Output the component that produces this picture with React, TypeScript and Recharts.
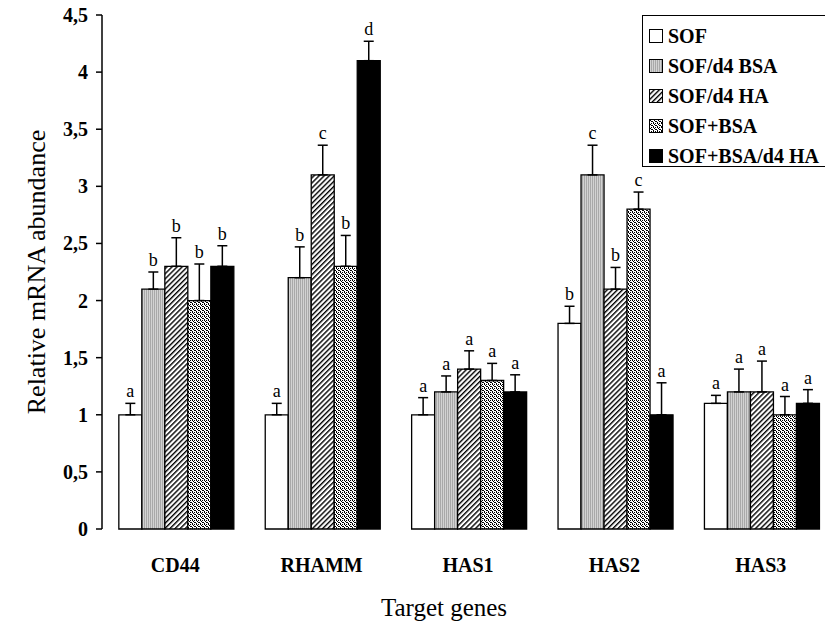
import { BarChart, Bar, XAxis, YAxis, ErrorBar, Legend, LabelList, Label } from 'recharts'

const genes = ['CD44', 'RHAMM', 'HAS1', 'HAS2', 'HAS3']
const seriesNames = ['SOF', 'SOF/d4 BSA', 'SOF/d4 HA', 'SOF+BSA', 'SOF+BSA/d4 HA']

// mean relative abundance per group
const sof = [1.0, 1.0, 1.0, 1.8, 1.1]
const sofD4Bsa = [2.1, 2.2, 1.2, 3.1, 1.2]
const sofD4Ha = [2.3, 3.1, 1.4, 2.1, 1.2]
const sofBsa = [2.0, 2.3, 1.3, 2.8, 1.0]
const sofBsaD4Ha = [2.3, 4.1, 1.2, 1.0, 1.1]

// upper error (SEM)
const sofErr = [0.1, 0.1, 0.15, 0.15, 0.07]
const sofD4BsaErr = [0.15, 0.27, 0.14, 0.26, 0.2]
const sofD4HaErr = [0.25, 0.26, 0.16, 0.19, 0.27]
const sofBsaErr = [0.32, 0.27, 0.15, 0.15, 0.16]
const sofBsaD4HaErr = [0.18, 0.17, 0.15, 0.28, 0.12]

// significance letters
const sofSig = ['a', 'a', 'a', 'b', 'a']
const sofD4BsaSig = ['b', 'b', 'a', 'c', 'a']
const sofD4HaSig = ['b', 'c', 'a', 'b', 'a']
const sofBsaSig = ['b', 'b', 'a', 'c', 'a']
const sofBsaD4HaSig = ['b', 'd', 'a', 'a', 'a']

const yTicks = [0, 0.5, 1, 1.5, 2, 2.5, 3, 3.5, 4, 4.5]
const boundaryTicks = [0, 1, 2, 3, 4, 5]

const values = [sof, sofD4Bsa, sofD4Ha, sofBsa, sofBsaD4Ha]
const errors = [sofErr, sofD4BsaErr, sofD4HaErr, sofBsaErr, sofBsaD4HaErr]
const letters = [sofSig, sofD4BsaSig, sofD4HaSig, sofBsaSig, sofBsaD4HaSig]
const fills = ['#ffffff', 'url(#patGray)', 'url(#patHatch)', 'url(#patDots)', '#000000']

const data = genes.map((gene, g) => {
  const row: any = { gene }
  values.forEach((v, i) => {
    row['v' + i] = v[g]
    row['e' + i] = [0, errors[i][g]]
    row['s' + i] = letters[i][g]
  })
  return row
})

const serif = '"Liberation Serif", "Times New Roman", Times, serif'

const makeLetter = (i: number) => (props: any) => {
  const { x, y, width, height, index } = props
  const v = values[i][index]
  const pxPerUnit = height / v
  const top = y - errors[i][index] * pxPerUnit
  return (
    <text x={x + width / 2} y={top - 6} textAnchor="middle" fontFamily={serif} fontSize={18} fill="#000">
      {letters[i][index]}
    </text>
  )
}

const YTick = (props: any) => {
  const { x, y, payload } = props
  return (
    <text x={x - 6} y={y} dy="0.35em" textAnchor="end" fontFamily={serif} fontWeight="bold" fontSize={20} fill="#000">
      {String(payload.value).replace('.', ',')}
    </text>
  )
}

const XTick = (props: any) => {
  const { x, y, payload } = props
  return (
    <text x={x} y={y + 43} textAnchor="middle" fontFamily={serif} fontWeight="bold" fontSize={20} fill="#000">
      {payload.value}
    </text>
  )
}

const YTitle = (props: any) => {
  const vb = props.viewBox
  const cx = 36
  const cy = vb.y + vb.height / 2
  return (
    <text x={cx} y={cy} textAnchor="middle" dominantBaseline="central" transform={`rotate(-90 ${cx} ${cy})`}
      fontFamily={serif} fontSize={26} fill="#000">
      Relative mRNA abundance
    </text>
  )
}

const XTitle = (props: any) => {
  const vb = props.viewBox
  return (
    <text x={vb.x + 342} y={vb.y + 87} textAnchor="middle" fontFamily={serif} fontSize={25} fill="#000">
      Target genes
    </text>
  )
}

const LegendBox = () => (
  <div style={{ border: '1.5px solid #000', boxSizing: 'border-box', width: 230, height: 152, paddingTop: 5, background: '#fff' }}>
    {seriesNames.map((name, i) => (
      <div key={name} style={{ height: 30, display: 'flex', alignItems: 'center', paddingLeft: 6 }}>
        <svg width={14} height={14} style={{ marginRight: 5 }}>
          <rect x={0.5} y={0.5} width={13} height={13} fill={fills[i]} stroke="#000" strokeWidth={1} />
        </svg>
        <span style={{ fontFamily: serif, fontWeight: 'bold', fontSize: 20, whiteSpace: 'nowrap' }}>{name}</span>
      </div>
    ))}
  </div>
)

export default function App() {
  return (
    <div style={{ position: 'absolute', left: 0, top: 0, width: 825, height: 630, overflow: 'hidden', background: '#fff' }}>
      <BarChart width={900} height={630} data={data} margin={{ top: 15, right: 66, bottom: 0, left: 0 }}
        barCategoryGap="11.5%" barGap={0}>
        <defs>
          <pattern id="patGray" width="2" height="4" patternUnits="userSpaceOnUse">
            <rect width="2" height="4" fill="#d2d2d2" />
            <rect x="0" width="1" height="4" fill="#a8a8a8" />
          </pattern>
          <pattern id="patHatch" width="3.6" height="4" patternUnits="userSpaceOnUse" patternTransform="rotate(45)">
            <rect width="3.6" height="4" fill="#fff" />
            <rect x="0" width="1.4" height="4" fill="#000" />
          </pattern>
          <pattern id="patDots" width="4" height="4" patternUnits="userSpaceOnUse">
            <rect width="4" height="4" fill="#fff" />
            <rect x="0" y="0" width="1" height="1" fill="#000" />
            <rect x="2" y="0" width="1" height="1" fill="#000" />
            <rect x="1" y="1" width="1" height="1" fill="#000" />
            <rect x="3" y="2" width="1" height="1" fill="#000" />
            <rect x="0" y="3" width="1" height="1" fill="#000" />
            <rect x="2" y="2" width="1" height="1" fill="#000" />
          </pattern>
        </defs>
        <XAxis xAxisId="grid" type="number" domain={[0, 5]} ticks={boundaryTicks} height={0}
          tick={false} tickLine={{ stroke: '#000', strokeWidth: 1.5 }} tickSize={8}
          axisLine={{ stroke: '#000', strokeWidth: 1.5 }} />
        <XAxis xAxisId="cat" dataKey="gene" height={101} axisLine={false} tickLine={false}
          tickSize={0} tickMargin={0} tick={<XTick />} interval={0}>
          <Label content={<XTitle />} />
        </XAxis>
        <YAxis width={102} domain={[0, 4.5]} ticks={yTicks} interval={0} tick={<YTick />}
          tickLine={{ stroke: '#000', strokeWidth: 1.5 }} tickSize={6}
          axisLine={{ stroke: '#000', strokeWidth: 1.5 }}>
          <Label content={<YTitle />} />
        </YAxis>
        <Legend layout="horizontal" verticalAlign="middle" align="center"
          wrapperStyle={{ top: 15, left: 642, width: 230, height: 152 }} content={<LegendBox />} />
        {seriesNames.map((name, i) => (
          <Bar key={name} xAxisId="cat" dataKey={'v' + i} name={name} fill={fills[i]} stroke="#000"
            strokeWidth={1.3} isAnimationActive={false}>
            <ErrorBar dataKey={'e' + i} width={5} stroke="#000" strokeWidth={1.5} direction="y" />
            <LabelList dataKey={'s' + i} content={makeLetter(i)} />
          </Bar>
        ))}
      </BarChart>
    </div>
  )
}
